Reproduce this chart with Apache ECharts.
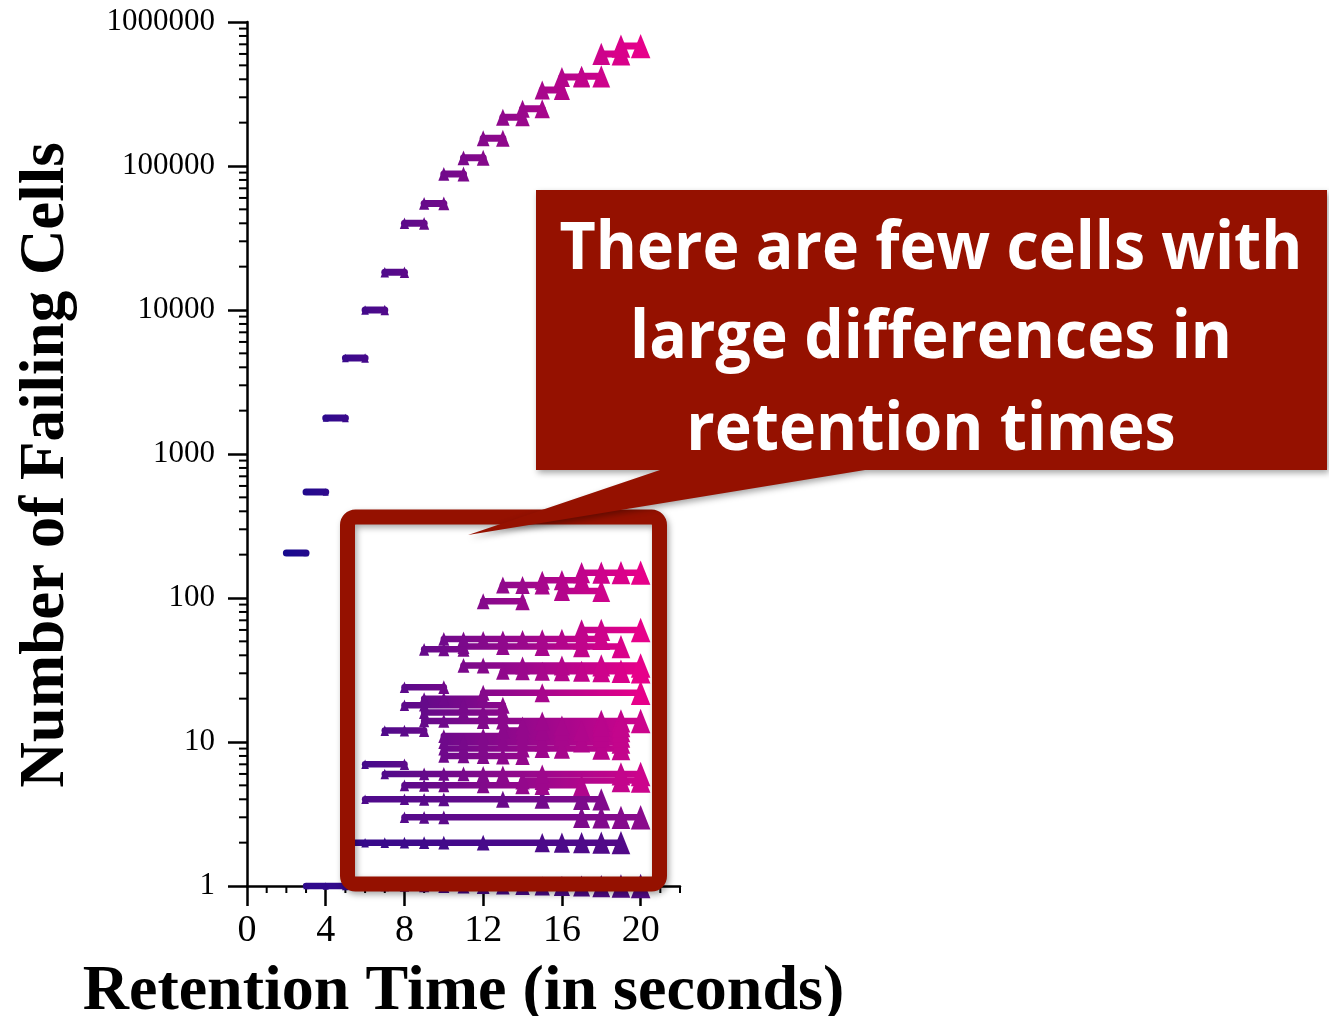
<!DOCTYPE html>
<html><head><meta charset="utf-8">
<script src="https://cdn.jsdelivr.net/npm/echarts@6/dist/echarts.min.js"></script>
<style>html,body{margin:0;padding:0;background:#fff}#c{width:1329px;height:1016px}</style>
</head><body><div id="c"></div>
<script>
// ---- data ----
const mainStart = [2,3,4,5,6,7,8,9,10,11,12,13,14,15,16,17,18,19];
const mainCount = [205,545,1780,4640,10000,18300,40000,55000,88000,114000,156000,218000,250000,337000,415000,420000,600000,680000];

const boxCount = [1,2,3,4,5,5.4,6,7,8,9,10,11,12,12,14,13,16,18,20,22,24,31,34,44,46,52,60,95,112,123,133,150];
const boxTimes = [
  [3,4,5,6,7,8,9,10,11,12,13,14,15,16,17,18,19,20],
  [5,6,7,8,9,10,12,15,16,17,18,19],
  [8,9,10,17,18,19,20],
  [6,8,9,10,13,15,17,18],
  [8,9,10,12,14,15,17],
  [14,15,19,20],
  [7,9,10,11,12,13,15,19,20],
  [6,8],
  [10,11,12,13,14],
  [10,11,12,14,15,16,18,19],
  [10,11,12,13,14,15,17,19],
  [10,12,14,16,18,19],
  [7,8,9],
  [13,14,15,16,17,18,19],
  [9,10,12,13,15,18,19,20],
  [14,16,18,19],
  [9,11,12,13],
  [8,9,11,13],
  [9,10,12],
  [12,15,20],
  [8,10],
  [13,14,15,16,17,18,19,20],
  [11,12,14,16,18,20],
  [9,10,11],
  [11,13,15,17,19],
  [10,11,12,13,14,15,16,17,18],
  [17,18,20],
  [12,14],
  [16,18],
  [13,14,15],
  [15,16,17],
  [17,18,19,20]
];

const xTickLabels = [0,4,8,12,16,20];
const xMinorTicks = [1,2,3,5,6,7,9,10,11,13,14,15,17,18,19,21,22];
const minorMantissas = [2,3,4,5,6,7,8,9];
const decades = [1,10,100,1000,10000,100000];

// ---- build ----
const chart = echarts.init(document.getElementById('c'));
function symSize(val){ const t = val[0]; const w = 2.5 + 0.85 * t; return [w, w * 1.25]; }
const series = [], mainIdx = [], boxIdx = [], midIdx = [], darkIdx = [];
function lineSeries(data, width){
  return {type:'line', data:data, symbol:'triangle', symbolSize:symSize, showAllSymbol:true,
    clip:false, silent:true, animation:false, lineStyle:{width:width, cap:'round', join:'round'}, z:3};
}
boxCount.forEach((c,i)=>{
  const idx = series.length;
  (c <= 2 ? darkIdx : (c <= 4 ? midIdx : (c <= 20 ? boxIdx : mainIdx))).push(idx);
  series.push(lineSeries(boxTimes[i].map(t=>[t,c]), 6.5));
});
mainStart.forEach((t,i)=>{
  mainIdx.push(series.length);
  series.push(lineSeries([[t, mainCount[i]],[t+1, mainCount[i]]], 7));
});
const yMinor = [];
decades.forEach(d=>minorMantissas.forEach(m=>yMinor.push(m*d)));
series.push({type:'custom', silent:true, clip:false, animation:false, z:1,
  data: yMinor.map(v=>[0,v]),
  renderItem:(params, api)=>{ const p = api.coord([api.value(0), api.value(1)]);
    return {type:'line', shape:{x1:p[0]-8, y1:p[1], x2:p[0], y2:p[1]}, style:{stroke:'#000', lineWidth:2}}; }});
series.push({type:'custom', silent:true, clip:false, animation:false, z:1,
  data: xMinorTicks.map(t=>[t,1]),
  renderItem:(params, api)=>{ const p = api.coord([api.value(0), api.value(1)]);
    return {type:'line', shape:{x1:p[0], y1:p[1], x2:p[0], y2:p[1]+7}, style:{stroke:'#000', lineWidth:2}}; }});

const serif = 'Liberation Serif';
const shadow = {shadowBlur:6, shadowOffsetX:2, shadowOffsetY:3, shadowColor:'rgba(0,0,0,0.35)'};
const calloutFont = 'bold 67px "Open Sans"';

chart.setOption({
  animation:false,
  backgroundColor:'#fff',
  grid:{left:247, top:22, width:433, height:864, containLabel:false, outerBoundsMode:'none'},
  xAxis:{type:'value', min:0, max:22, interval:4,
    axisLine:{onZero:false, lineStyle:{color:'#000', width:2.5}},
    axisTick:{length:20, customValues:xTickLabels, lineStyle:{color:'#000', width:2.5}},
    axisLabel:{customValues:xTickLabels, fontFamily:serif, fontSize:38, color:'#000', margin:26},
    splitLine:{show:false},
    name:'Retention Time (in seconds)', nameLocation:'middle', nameGap:74,
    nameTextStyle:{fontFamily:serif, fontWeight:'bold', fontSize:64, color:'#000'}},
  yAxis:{type:'log', logBase:10, min:1, max:1000000, splitNumber:6,
    axisLine:{onZero:false, lineStyle:{color:'#000', width:2.5}},
    axisTick:{length:19, lineStyle:{color:'#000', width:2.5}},
    axisLabel:{fontFamily:serif, fontSize:31, color:'#000', margin:32, padding:[0,0,6,0], formatter:v=>String(Math.round(v))},
    splitLine:{show:false},
    name:'Number of Failing Cells', nameLocation:'middle', nameGap:169,
    nameTextStyle:{fontFamily:serif, fontWeight:'bold', fontSize:63, color:'#000', padding:[0,22,0,0]}},
  visualMap:[
    {type:'continuous', show:false, dimension:0, min:2, max:20, seriesIndex:mainIdx,
      inRange:{color:['#180a8e','#5c0a8a','#9a088c','#e6008a']}},
    {type:'continuous', show:false, dimension:0, min:2, max:20, seriesIndex:boxIdx,
      inRange:{color:['#180a8e','#5c0a8a','#94088c','#cc048c']}},
    {type:'continuous', show:false, dimension:0, min:2, max:20, seriesIndex:midIdx,
      inRange:{color:['#400a8c','#600a8a','#8a0a8c']}},
    {type:'continuous', show:false, dimension:0, min:2, max:20, seriesIndex:darkIdx,
      inRange:{color:['#2c0a8c','#450a8a','#540a88']}}
  ],
  series:series,
  graphic:[
    {type:'rect', z:100, silent:true, shape:{x:347.5, y:517, width:312, height:367, r:8},
      style:Object.assign({fill:'none', stroke:'#951100', lineWidth:15}, shadow)},
    {type:'polygon', z:101, silent:true,
      shape:{points:[[536,190],[1327,190],[1327,470],[865,470],[468,535],[660,470],[536,470]]},
      style:Object.assign({fill:'#951100'}, shadow)},
    {type:'text', z:102, silent:true, x:931, y:250, scaleX:0.935,
      style:{text:'There are few cells with', fill:'#fff', font:calloutFont, textAlign:'center', textVerticalAlign:'middle'}},
    {type:'text', z:102, silent:true, x:931, y:339, scaleX:0.935,
      style:{text:'large differences in', fill:'#fff', font:calloutFont, textAlign:'center', textVerticalAlign:'middle'}},
    {type:'text', z:102, silent:true, x:931, y:431, scaleX:0.935,
      style:{text:'retention times', fill:'#fff', font:calloutFont, textAlign:'center', textVerticalAlign:'middle'}}
  ]
});
</script></body></html>
